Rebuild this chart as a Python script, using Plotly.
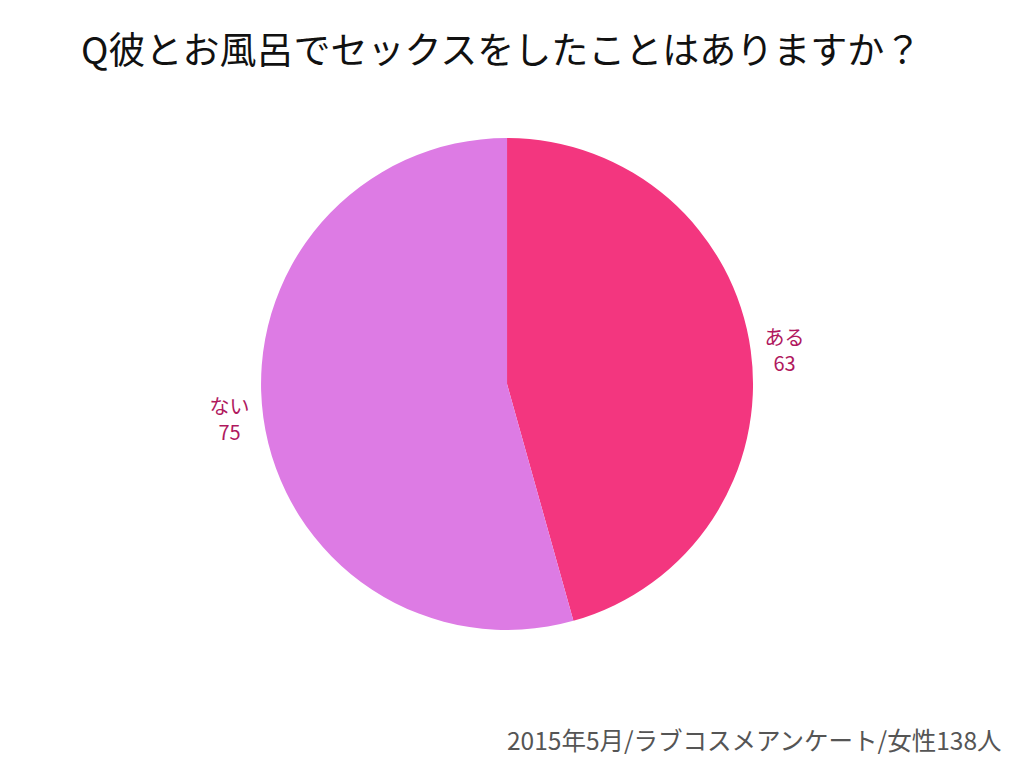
import plotly.graph_objects as go

labels = ["ある", "ない"]
values = [63, 75]
colors = ["#F3367F", "#DD7BE4"]

title_text = "Q彼とお風呂でセックスをしたことはありますか？"
footer_text = "2015年5月/ラブコスメアンケート/女性138人"

fig = go.Figure(go.Pie(
    labels=labels,
    values=values,
    sort=False,
    direction="clockwise",
    rotation=0,
    marker=dict(colors=colors, line=dict(width=0)),
    texttemplate="%{label}<br>%{value}",
    textposition="outside",
    outsidetextfont=dict(color="#B0185E", size=20, family="Noto Sans CJK JP"),
    showlegend=False,
    hoverinfo="none",
    domain=dict(x=[0.2549, 0.7354], y=[0.1797, 0.8203]),
))

fig.update_layout(
    width=1024, height=768,
    margin=dict(l=0, r=0, t=0, b=0),
    paper_bgcolor="white",
    plot_bgcolor="white",
    annotations=[
        dict(text=title_text, x=501/1024, y=1-48/768, xref="paper", yref="paper",
             showarrow=False, xanchor="center", yanchor="middle",
             font=dict(size=37, color="#111111", family="Noto Sans CJK JP")),
        dict(text=footer_text, x=1004/1024, y=1-739/768, xref="paper", yref="paper",
             showarrow=False, xanchor="right", yanchor="middle",
             font=dict(size=24.5, color="#555555", family="Noto Sans CJK JP")),
    ],
)

fig.write_html("out.html")
